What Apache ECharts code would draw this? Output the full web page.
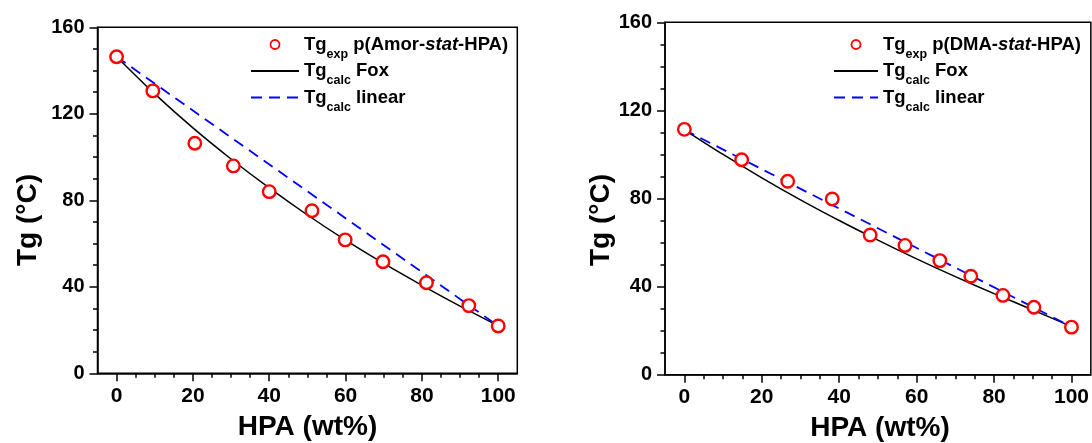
<!DOCTYPE html>
<html><head><meta charset="utf-8">
<script src="https://cdn.jsdelivr.net/npm/echarts@6/dist/echarts.min.js"></script>
<style>html,body{margin:0;padding:0;background:#fff}#c{width:1092px;height:443px}</style>
</head><body><div id="c"></div>
<script>
// ---- data ----
const xTickLabels = [0, 20, 40, 60, 80, 100];
const xMinorTicks = [5, 10, 15, 25, 30, 35, 45, 50, 55, 65, 70, 75, 85, 90, 95];

// left panel: p(Amor-stat-HPA)
const expA_x = [0, 9.5, 20.5, 30.6, 40, 51.2, 59.9, 69.8, 81.2, 92.3, 100];
const expA_y = [146.4, 130.6, 106.4, 95.9, 84.0, 75.2, 61.7, 51.6, 41.9, 31.3, 21.9];
const foxA_x = [0, 10, 20, 30, 40, 50, 60, 70, 80, 90, 100];
const foxA_y = [146.4, 129.2, 113.5, 99.1, 85.7, 73.2, 61.6, 50.8, 40.7, 31.1, 21.9];
const linA_x = [0, 100];
const linA_y = [146.4, 21.9];

// right panel: p(DMA-stat-HPA)
const expB_x = [0, 14.8, 26.7, 38.2, 48.0, 57.0, 66.0, 74.0, 82.3, 90.3, 100];
const expB_y = [111.4, 97.6, 87.8, 79.8, 63.4, 58.7, 51.8, 44.7, 36.0, 30.6, 21.6];
const foxB_x = [0, 10, 20, 30, 40, 50, 60, 70, 80, 90, 100];
const foxB_y = [111.2, 100.0, 89.4, 79.4, 70.0, 61.1, 52.6, 44.5, 36.8, 29.4, 21.8];
const linB_x = [0, 100];
const linB_y = [111.2, 21.8];

const nameExpA = 'Tg exp p(Amor-stat-HPA)';
const nameExpB = 'Tg exp p(DMA-stat-HPA)';
const nameFox = 'Tg calc Fox';
const nameLin = 'Tg calc linear';

// ---- chart ----
const FF = '"Liberation Sans", Arial, Helvetica, sans-serif';
const zip = (xs, ys) => xs.map((x, i) => [x, ys[i]]);
const black = '#000';
const clear = 'rgba(0,0,0,0)';

const legendRich = {
  m: {fontSize: 18.5, fontWeight: 'bold', fontFamily: FF, color: black, lineHeight: 22},
  i: {fontSize: 18.5, fontWeight: 'bold', fontStyle: 'italic', fontFamily: FF, color: black, lineHeight: 22},
  s: {fontSize: 12.5, fontWeight: 'bold', fontFamily: FF, color: black, lineHeight: 14, padding: [0, 0, -20, 0]}
};
const legendFmt = {};
legendFmt[nameExpA] = '{m|Tg}{s|exp}{m| p(Amor-}{i|stat}{m|-HPA)}';
legendFmt[nameExpB] = '{m|Tg}{s|exp}{m| p(DMA-}{i|stat}{m|-HPA)}';
legendFmt[nameFox] = '{m|Tg}{s|calc}{m| Fox}';
legendFmt[nameLin] = '{m|Tg}{s|calc}{m| linear}';

function makeLegend(left, width, expName) {
  return {
    orient: 'vertical', left: left, top: 35, padding: 0,
    itemWidth: width, itemHeight: 9, itemGap: 0.5, selectedMode: false,
    formatter: n => legendFmt[n],
    textStyle: {rich: legendRich},
    data: [
      {name: expName, icon: 'circle', itemStyle: {borderWidth: 1.8, color: '#fff', borderColor: '#ff0000'}},
      {name: nameFox, itemStyle: {color: clear, borderColor: clear, borderWidth: 0, opacity: 0}},
      {name: nameLin, itemStyle: {color: clear, borderColor: clear, borderWidth: 0, opacity: 0}}
    ]
  };
}

function makeXAxes(gi) {
  return [
    {type: 'value', gridIndex: gi, position: 'bottom', min: -5, max: 105, interval: 5,
      axisLine: {show: true, onZero: false, lineStyle: {color: black, width: 1.5}},
      axisTick: {show: true, length: 8, customValues: xTickLabels, lineStyle: {color: black, width: 1.5}},
      axisLabel: {customValues: xTickLabels, margin: 12, fontSize: 21, fontWeight: 'bold', fontFamily: FF, color: black},
      splitLine: {show: false}},
    {type: 'value', gridIndex: gi, position: 'bottom', min: -5, max: 105, interval: 5,
      axisLine: {show: false, onZero: false},
      axisTick: {show: true, length: 4.5, customValues: xMinorTicks, lineStyle: {color: black, width: 1.5}},
      axisLabel: {show: false},
      splitLine: {show: false}}
  ];
}
function makeYAxis(gi) {
  return {type: 'value', gridIndex: gi, min: 0, max: 160, interval: 40,
    axisLine: {show: true, onZero: false, lineStyle: {color: black, width: 1.5}},
    axisTick: {show: true, length: 8, lineStyle: {color: black, width: 1.5}},
    minorTick: {show: true, splitNumber: 4, length: 4.5, lineStyle: {color: black, width: 1.5}},
    axisLabel: {margin: 13, fontSize: 20, fontWeight: 'bold', fontFamily: FF, color: black},
    splitLine: {show: false}, minorSplitLine: {show: false}};
}
function makeSeries(xi, yi, expName, ex, ey, fx, fy, lx, ly) {
  return [
    {name: nameFox, type: 'line', xAxisIndex: xi, yAxisIndex: yi, data: zip(fx, fy), symbol: 'none',
      smooth: 0.3, lineStyle: {color: black, width: 1.5}, itemStyle: {color: black}, z: 2},
    {name: nameLin, type: 'line', xAxisIndex: xi, yAxisIndex: yi, data: zip(lx, ly), symbol: 'none',
      lineStyle: {color: '#0000ff', width: 1.8, type: [11, 7]}, itemStyle: {color: '#0000ff'}, z: 3},
    {name: expName, type: 'scatter', xAxisIndex: xi, yAxisIndex: yi, data: zip(ex, ey), symbol: 'circle',
      symbolSize: 12.5, itemStyle: {color: '#fff', borderColor: '#ff0000', borderWidth: 2.4, opacity: 1}, z: 5}
  ];
}
function title(text, x, y, rot) {
  return {type: 'text', x: x, y: y, rotation: rot || 0,
    style: {text: text, font: 'bold 28px ' + FF, fill: black, align: 'center', verticalAlign: 'middle'}};
}

const chart = echarts.init(document.getElementById('c'), null, {renderer: 'canvas'});
chart.setOption({
  animation: false,
  backgroundColor: '#fff',
  grid: [
    {left: 97.5, top: 27.3, width: 419.8, height: 346, show: true, borderColor: black, borderWidth: 1.5, backgroundColor: 'transparent'},
    {left: 665, top: 22.3, width: 430.6, height: 352.4, show: true, borderColor: black, borderWidth: 1.5, backgroundColor: 'transparent'}
  ],
  legend: [makeLegend(250, 48, nameExpA), makeLegend(833, 44, nameExpB)],
  xAxis: [...makeXAxes(0), ...makeXAxes(1)],
  yAxis: [makeYAxis(0), makeYAxis(1)],
  series: [
    ...makeSeries(0, 0, nameExpA, expA_x, expA_y, foxA_x, foxA_y, linA_x, linA_y),
    ...makeSeries(2, 1, nameExpB, expB_x, expB_y, foxB_x, foxB_y, linB_x, linB_y)
  ],
  graphic: [
    title('Tg (°C)', 28, 220, Math.PI / 2),
    title('HPA (wt%)', 307.5, 427),
    title('Tg (°C)', 601.5, 220, Math.PI / 2),
    title('HPA (wt%)', 880, 428)
  ]
});
</script></body></html>
